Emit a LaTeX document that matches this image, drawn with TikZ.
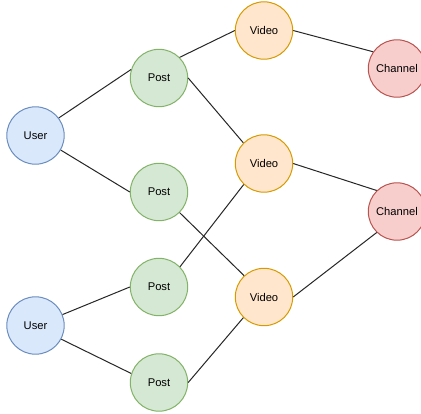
\documentclass[tikz,border=0pt]{standalone}
\usepackage{fontspec}
\setmainfont{Liberation Sans}
\definecolor{userfill}{HTML}{DAE8FC}\definecolor{userline}{HTML}{6C8EBF}
\definecolor{postfill}{HTML}{D5E8D4}\definecolor{postline}{HTML}{82B366}
\definecolor{videofill}{HTML}{FFE6CC}\definecolor{videoline}{HTML}{D79B00}
\definecolor{chanfill}{HTML}{F8CECC}\definecolor{chanline}{HTML}{B85450}
\tikzset{
  entity/.style={circle, minimum size=57.4pt, inner sep=0pt, line width=1pt,
    font=\fontsize{11.2}{13}\selectfont},
  user/.style={entity, fill=userfill, draw=userline},
  post/.style={entity, fill=postfill, draw=postline},
  video/.style={entity, fill=videofill, draw=videoline},
  channel/.style={entity, fill=chanfill, draw=chanline},
  link/.style={line width=1pt, black!85}
}
\begin{document}
\begin{tikzpicture}[x=1pt, y=-1pt]
\useasboundingbox (0,0) rectangle (421,413);
\fill[white] (0,0) rectangle (421,413);

% users
\node[user] (u1) at (35.5,135.5) {User};
\node[user] (u2) at (35.5,325.5) {User};
% posts
\node[post] (p1) at (159,78) {Post};
\node[post] (p2) at (159,192) {Post};
\node[post] (p3) at (159,287) {Post};
\node[post] (p4) at (159,382.5) {Post};
% videos
\node[video] (v1) at (264,30.5) {Video};
\node[video] (v2) at (264,163.5) {Video};
\node[video] (v3) at (264,297) {Video};
% channels
\node[channel] (c1) at (397,68.5) {Channel};
\node[channel] (c2) at (397,211.5) {Channel};

% relations
\draw[link] (u1.37) -- (p1.163);
\draw[link] (u1.-30) -- (p2.180);
\draw[link] (u2.22) -- (p3.180);
\draw[link] (u2.-28) -- (p4.162);
\draw[link] (p1.45) -- (v1.180);
\draw[link] (p1.0) -- (v2.135);
\draw[link] (p2.-45) -- (v3.133);
\draw[link] (p3.44) -- (v2.226);
\draw[link] (p4.0) -- (v3.225);
\draw[link] (v1.0) -- (c1.145);
\draw[link] (v2.0) -- (c2.134);
\draw[link] (v3.0) -- (c2.226);
\end{tikzpicture}
\end{document}
